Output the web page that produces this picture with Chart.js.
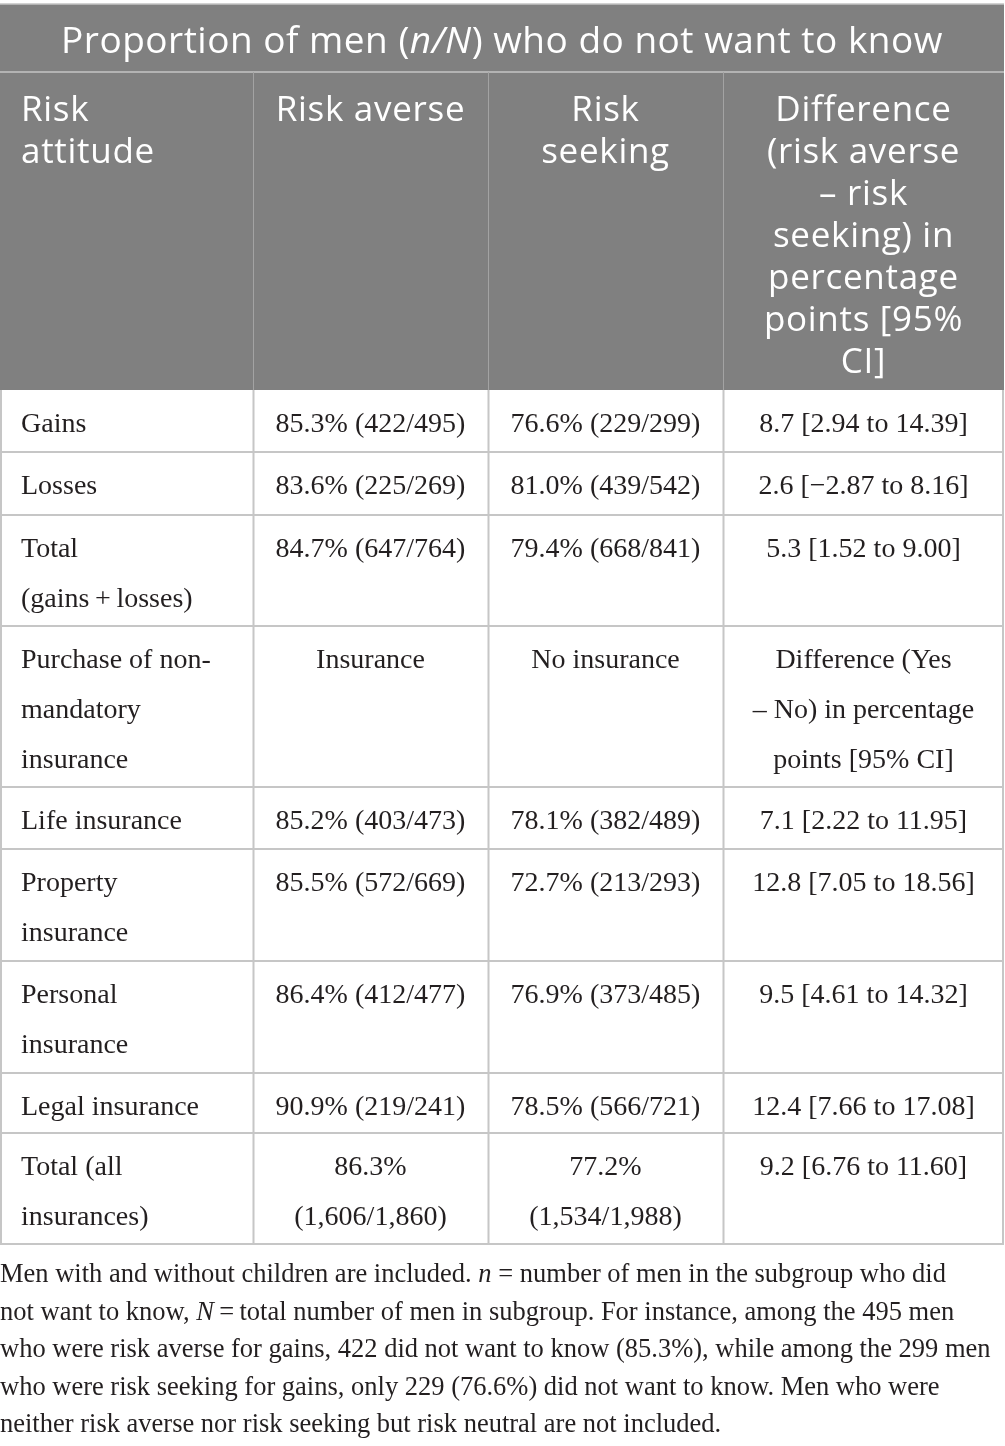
<!DOCTYPE html>
<html lang="en">
<head>
  <meta charset="UTF-8">
  <title>Proportion of men who do not want to know</title>
  <style>
    body {
      margin: 0;
      background: #fff;
    }
    #wrap {
      position: relative;
      width: 1005px;
      height: 1446px;
    }
  </style>
  <script src="https://cdn.jsdelivr.net/npm/chart.js"></script>
</head>
<body>
  <div id="wrap"><canvas id="table"></canvas></div>

  <script>
    // table content
    const titleParts = [
      { text: "Proportion of men (", italic: false },
      { text: "n/N", italic: true },
      { text: ") who do not want to know", italic: false }
    ];
    const columnHeads = [
      ["Risk", "attitude"],
      ["Risk averse"],
      ["Risk", "seeking"],
      ["Difference", "(risk averse", "\u2013 risk", "seeking) in", "percentage", "points [95%", "CI]"]
    ];
    const rowLabels = [
      ["Gains"], ["Losses"], ["Total", "(gains\u2009+\u2009losses)"],
      ["Purchase of non-", "mandatory", "insurance"],
      ["Life insurance"], ["Property", "insurance"], ["Personal", "insurance"],
      ["Legal insurance"], ["Total (all", "insurances)"]
    ];
    const riskAverse = [
      ["85.3% (422/495)"], ["83.6% (225/269)"], ["84.7% (647/764)"],
      ["Insurance"],
      ["85.2% (403/473)"], ["85.5% (572/669)"], ["86.4% (412/477)"],
      ["90.9% (219/241)"], ["86.3%", "(1,606/1,860)"]
    ];
    const riskSeeking = [
      ["76.6% (229/299)"], ["81.0% (439/542)"], ["79.4% (668/841)"],
      ["No insurance"],
      ["78.1% (382/489)"], ["72.7% (213/293)"], ["76.9% (373/485)"],
      ["78.5% (566/721)"], ["77.2%", "(1,534/1,988)"]
    ];
    const difference = [
      ["8.7 [2.94 to 14.39]"], ["2.6 [\u22122.87 to 8.16]"], ["5.3 [1.52 to 9.00]"],
      ["Difference (Yes", "\u2013 No) in percentage", "points [95% CI]"],
      ["7.1 [2.22 to 11.95]"], ["12.8 [7.05 to 18.56]"], ["9.5 [4.61 to 14.32]"],
      ["12.4 [7.66 to 17.08]"], ["9.2 [6.76 to 11.60]"]
    ];
    const footnote = [
      [["Men with and without children are included. ", false], ["n", true], [" = number of men in the subgroup who did", false]],
      [["not want to know, ", false], ["N", true], ["\u2009=\u2009total number of men in subgroup. For instance, among the 495 men", false]],
      [["who were risk averse for gains, 422 did not want to know (85.3%), while among the 299 men", false]],
      [["who were risk seeking for gains, only 229 (76.6%) did not want to know. Men who were", false]],
      [["neither risk averse nor risk seeking but risk neutral are not included.", false]]
    ];

    // layout (in page units, mapped through the chart scales)
    const colEdges = [0, 253, 488, 723, 1004];
    const headTop = 4, titleBottom = 72, headBottom = 390;
    const rowEdges = [390, 452, 515, 626, 787, 849, 961, 1073, 1133, 1244];
    const footTop = 1244;

    const HEAD_FONT = '"Open Sans", sans-serif';
    const BODY_FONT = '"Liberation Serif", serif';

    function drawRuns(ctx, runs, x, y, size, family, align) {
      let total = 0;
      runs.forEach(r => {
        ctx.font = (r[1] ? 'italic ' : '') + size + 'px ' + family;
        total += ctx.measureText(r[0]).width;
      });
      let cx = align === 'center' ? x - total / 2 : x;
      ctx.textAlign = 'left';
      runs.forEach(r => {
        ctx.font = (r[1] ? 'italic ' : '') + size + 'px ' + family;
        ctx.fillText(r[0], cx, y);
        cx += ctx.measureText(r[0]).width;
      });
    }

    const tablePlugin = {
      id: 'tableDraw',
      afterDraw(chart) {
        const ctx = chart.ctx;
        const xs = chart.scales.x, ys = chart.scales.y;
        const px = v => xs.getPixelForValue(v);
        const py = v => ys.getPixelForValue(v);
        ctx.save();
        ctx.textBaseline = 'alphabetic';

        // header block
        ctx.fillStyle = '#808080';
        ctx.fillRect(px(colEdges[0]), py(headTop), px(colEdges[4]) - px(colEdges[0]), py(headBottom) - py(headTop));

        ctx.strokeStyle = '#c4c4c4';
        ctx.lineWidth = 1.5;
        ctx.beginPath();
        ctx.moveTo(px(colEdges[0]), py(headTop)); ctx.lineTo(px(colEdges[4]), py(headTop));
        ctx.moveTo(px(colEdges[0]), py(titleBottom)); ctx.lineTo(px(colEdges[4]), py(titleBottom));
        ctx.stroke();

        ctx.strokeStyle = '#a3a3a3';
        ctx.lineWidth = 1;
        ctx.beginPath();
        for (let i = 1; i < colEdges.length - 1; i++) {
          ctx.moveTo(px(colEdges[i]) + 0.5, py(titleBottom)); ctx.lineTo(px(colEdges[i]) + 0.5, py(headBottom));
        }
        ctx.stroke();

        // title
        ctx.fillStyle = '#ffffff';
        ctx.letterSpacing = '0.5px';
        drawRuns(ctx, titleParts.map(p => [p.text, p.italic]),
          (px(colEdges[0]) + px(colEdges[4])) / 2, py(titleBottom) - 19, 37, HEAD_FONT, 'center');

        // column heads
        ctx.letterSpacing = '0.7px';
        ctx.font = '35px ' + HEAD_FONT;
        columnHeads.forEach((lines, c) => {
          lines.forEach((ln, k) => {
            const y = py(titleBottom) + 49 + k * 42;
            if (c === 0) {
              ctx.textAlign = 'left';
              ctx.fillText(ln, px(colEdges[0]) + 21, y);
            } else {
              ctx.textAlign = 'center';
              ctx.fillText(ln, (px(colEdges[c]) + px(colEdges[c + 1])) / 2, y);
            }
          });
        });
        ctx.letterSpacing = '0px';

        // body grid
        ctx.strokeStyle = '#c6c6c6';
        ctx.lineWidth = 2;
        ctx.beginPath();
        for (let r = 1; r < rowEdges.length; r++) {
          ctx.moveTo(px(colEdges[0]), py(rowEdges[r])); ctx.lineTo(px(colEdges[4]), py(rowEdges[r]));
        }
        colEdges.forEach((e, i) => {
          const x = i === 0 ? px(e) + 1 : (i === colEdges.length - 1 ? px(e) - 1 : px(e) + 0.5);
          ctx.moveTo(x, py(rowEdges[0])); ctx.lineTo(x, py(rowEdges[rowEdges.length - 1]));
        });
        ctx.stroke();

        // body text
        ctx.fillStyle = '#231f20';
        ctx.font = '28px ' + BODY_FONT;
        const cols = [rowLabels, riskAverse, riskSeeking, difference];
        cols.forEach((col, c) => {
          col.forEach((lines, r) => {
            lines.forEach((ln, k) => {
              const y = py(rowEdges[r]) + 42 + k * 50;
              if (c === 0) {
                ctx.textAlign = 'left';
                ctx.fillText(ln, px(colEdges[0]) + 21, y);
              } else {
                ctx.textAlign = 'center';
                ctx.fillText(ln, (px(colEdges[c]) + px(colEdges[c + 1])) / 2, y);
              }
            });
          });
        });

        // footnote
        footnote.forEach((runs, k) => {
          drawRuns(ctx, runs, px(0), py(footTop) + 38 + k * 37.6, 26.5, BODY_FONT, 'left');
        });

        ctx.restore();
      }
    };

    new Chart(document.getElementById('table'), {
      type: 'scatter',
      data: { datasets: [{ data: [] }] },
      options: {
        responsive: true,
        maintainAspectRatio: false,
        animation: false,
        layout: { padding: 0 },
        plugins: { legend: { display: false }, tooltip: { enabled: false } },
        scales: {
          x: { type: 'linear', min: 0, max: 1005, display: false },
          y: { type: 'linear', min: 0, max: 1446, reverse: true, display: false }
        }
      },
      plugins: [tablePlugin]
    });
  </script>
</body>
</html>
